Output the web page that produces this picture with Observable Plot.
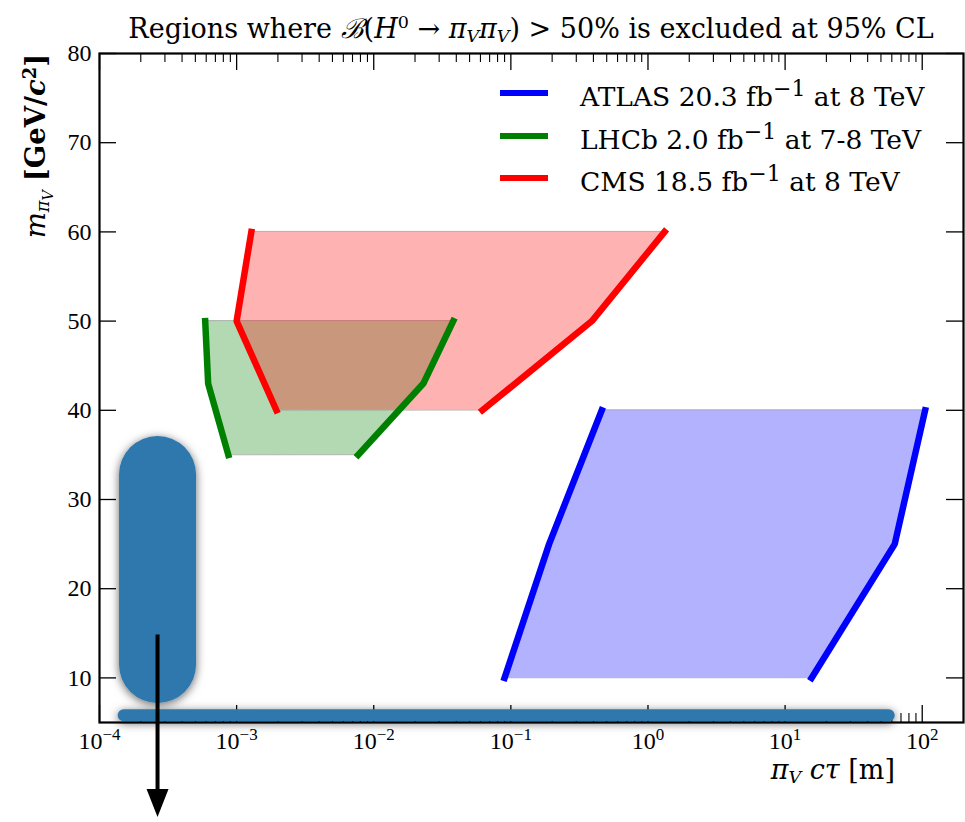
<!DOCTYPE html>
<html><head><meta charset="utf-8">
<script src="https://cdn.jsdelivr.net/npm/d3@7"></script>
<script src="https://cdn.jsdelivr.net/npm/@observablehq/plot@0.6"></script>
<style>
body{margin:0;background:#fff;}
#wrap{position:relative;width:965px;height:822px;font-family:"DejaVu Serif",serif;color:#000;overflow:hidden;}
#wrap svg{position:absolute;left:0;top:0;}
.ov{position:absolute;white-space:nowrap;line-height:1;}
.ov sub{font-size:0.65em;vertical-align:-0.25em;}
.ov sup{font-size:0.65em;vertical-align:0.55em;}
.leg{position:absolute;left:500px;width:590px;height:0;}
.leg .sw{position:absolute;left:0;top:-3px;width:48px;height:6px;}
.leg .tx{position:absolute;left:80px;top:-15px;font-size:26.5px;white-space:nowrap;line-height:1;}
</style></head><body><div id="wrap"></div>
<script>
// ---- data ----
const experiments = ["ATLAS", "LHCb", "CMS"];
const colors = ["#0000ff", "#008000", "#ff0000"];
const fills = ["#0000ff", "#008000", "#ff0000"];
const legendHTML = [
  "ATLAS 20.3 fb<sup>−1</sup> at 8 TeV",
  "LHCb 2.0 fb<sup>−1</sup> at 7-8 TeV",
  "CMS 18.5 fb<sup>−1</sup> at 8 TeV"
];
// mass (GeV/c^2), left and right boundaries in c*tau (m)
const atlasMass = [10, 25, 40];
const atlasLeft = [0.09, 0.19, 0.46];
const atlasRight = [15.6, 63, 105];
const lhcbMass = [35, 43, 50];
const lhcbLeft = [8.7e-4, 6.2e-4, 5.9e-4];
const lhcbRight = [0.0077, 0.023, 0.038];
const cmsMass = [40, 50, 60];
const cmsLeft = [1.95e-3, 1.0e-3, 1.28e-3];
const cmsRight = [0.062, 0.39, 1.32];

// annotation overlay (pill, bar, arrow)
const pillX = [2.65e-4, 2.65e-4];
const pillY = [11.5, 32.8];
const barX = [1.5e-4, 57];
const barY = [5.8, 5.8];
const arrowX = [2.65e-4, 2.65e-4];
const arrowY = [14.8, -5.6];

// ticks
const xMajor = [1e-4, 1e-3, 1e-2, 1e-1, 1e0, 1e1, 1e2];
const xMinorMult = [2, 3, 4, 5, 6, 7, 8, 9];
const xMinor = xMajor.flatMap(d => xMinorMult.map(m => d * m)).filter(v => v < 200);
const yTicks = [10, 20, 30, 40, 50, 60, 70, 80];

// ---- build tables ----
const regions = [
  {name: "ATLAS", m: atlasMass, l: atlasLeft, r: atlasRight},
  {name: "LHCb", m: lhcbMass, l: lhcbLeft, r: lhcbRight},
  {name: "CMS", m: cmsMass, l: cmsLeft, r: cmsRight}
];
const areaRows = regions.flatMap((g, gi) => g.m.map((m, i) => ({exp: g.name, gi, m, x1: g.l[i], x2: g.r[i]})));
const edgeRows = regions.flatMap((g, gi) => [
  ...g.m.map((m, i) => ({exp: g.name, gi, side: g.name + "L", m, x: g.l[i]})),
  ...g.m.map((m, i) => ({exp: g.name, gi, side: g.name + "R", m, x: g.r[i]}))
]);
const pillRows = pillX.map((x, i) => ({x, y: pillY[i]}));
const barRows = barX.map((x, i) => ({x, y: barY[i]}));

const W = 965, H = 822, mt = 53, mb = 100, ml = 99, mr = 2;
const fh = H - mt - mb, fw = W - ml - mr;
const majorLen = 17, minorLen = 9;

const headSymbol = {
  draw(ctx, size) {
    const w = 11, h = 28;
    ctx.moveTo(-w, -h); ctx.lineTo(w, -h); ctx.lineTo(0, 0); ctx.closePath();
  }
};

const marks = [];
// fills
regions.forEach((g, gi) => {
  marks.push(Plot.areaX(areaRows.filter(d => d.gi === gi), {
    y: "m", x1: "x1", x2: "x2", fill: fills[gi], fillOpacity: 0.3,
    stroke: "#9a9a9a", strokeWidth: 1, strokeOpacity: 0.7, curve: "linear"
  }));
});
// boundary lines
regions.forEach((g, gi) => {
  marks.push(Plot.line(edgeRows.filter(d => d.gi === gi), {
    x: "x", y: "m", z: "side", stroke: colors[gi], strokeWidth: 6.5, strokeLinecap: "square", strokeLinejoin: "miter"
  }));
});
// ticks (inward)
marks.push(Plot.ruleX(xMajor, {x: d => d, insetTop: fh - majorLen, stroke: "#000", strokeWidth: 1.3}));
marks.push(Plot.ruleX(xMajor, {x: d => d, insetBottom: fh - majorLen, stroke: "#000", strokeWidth: 1.3}));
marks.push(Plot.ruleX(xMinor, {x: d => d, insetTop: fh - minorLen, stroke: "#000", strokeWidth: 1.1}));
marks.push(Plot.ruleX(xMinor, {x: d => d, insetBottom: fh - minorLen, stroke: "#000", strokeWidth: 1.1}));
marks.push(Plot.ruleY(yTicks, {y: d => d, insetRight: fw - majorLen, stroke: "#000", strokeWidth: 1.3}));
marks.push(Plot.ruleY(yTicks, {y: d => d, insetLeft: fw - majorLen, stroke: "#000", strokeWidth: 1.3}));
// annotation
marks.push(Plot.line(pillRows, {x: "x", y: "y", stroke: "#2e78ad", strokeWidth: 77, strokeLinecap: "round"}));
marks.push(Plot.line(barRows, {x: "x", y: "y", stroke: "#2e78ad", strokeWidth: 12, strokeLinecap: "round"}));
marks.push(Plot.ruleX([0], {x: () => arrowX[0], y1: () => arrowY[0], y2: () => arrowY[1] + 2.5, stroke: "#000", strokeWidth: 4}));
marks.push(Plot.dot([0], {x: () => arrowX[1], y: () => arrowY[1], symbol: headSymbol, fill: "#000", stroke: "none", r: 10}));
// axes
marks.push(Plot.axisX({ticks: xMajor, tickSize: 0, tickPadding: 9, fontSize: 24, tickFormat: d => "10|" + Math.round(Math.log10(d)), label: null}));
marks.push(Plot.axisY({ticks: yTicks, tickSize: 0, tickPadding: 8, fontSize: 24, tickFormat: d => String(d), label: null}));
marks.push(Plot.frame({stroke: "#000", strokeWidth: 2.2}));

const chart = Plot.plot({
  width: W, height: H, marginTop: mt, marginBottom: mb, marginLeft: ml, marginRight: mr,
  x: {type: "log", domain: [1e-4, 200]},
  y: {domain: [5, 80]},
  style: {fontFamily: "Liberation Serif", fontSize: "24px", background: "transparent", overflow: "visible", color: "#000"},
  marks
});

// drop shadow for the overlay strokes
const svg = d3.select(chart);
const defs = svg.insert("defs", ":first-child");
const f = defs.append("filter").attr("id", "shadow").attr("filterUnits", "userSpaceOnUse")
  .attr("x", 0).attr("y", 0).attr("width", W).attr("height", H);
f.append("feDropShadow").attr("dx", 0).attr("dy", 2).attr("stdDeviation", 5).attr("flood-color", "#000").attr("flood-opacity", 0.6);
svg.selectAll('g[stroke-width="77"], g[stroke-width="12"]').attr("filter", "url(#shadow)");

// superscript tick labels
svg.selectAll('g[aria-label="x-axis tick label"] text').each(function () {
  const [base, ex] = this.textContent.split("|");
  const t = d3.select(this);
  t.text(null);
  t.append("tspan").text(base);
  t.append("tspan").attr("dy", "-0.5em").attr("font-size", "17px").text(ex.replace("-", "−"));
});

const wrap = document.getElementById("wrap");
wrap.appendChild(chart);

// title
const title = document.createElement("div");
title.className = "ov";
title.style.cssText = "left:531px;top:14px;transform:translateX(-50%);font-size:27px;";
title.innerHTML = "Regions where <i>ℬ</i>(<i>H</i><sup>0</sup> → <i>π</i><sub><i>V</i></sub><i>π</i><sub><i>V</i></sub>) &gt; 50% is excluded at 95% CL";
wrap.appendChild(title);

// axis labels
const xl = document.createElement("div");
xl.className = "ov";
xl.style.cssText = "right:70px;top:756px;font-size:27px;";
xl.innerHTML = "<i>π</i><sub><i>V</i></sub> <i>cτ</i> [m]";
wrap.appendChild(xl);

const yl = document.createElement("div");
yl.className = "ov";
yl.style.cssText = "left:38px;top:146px;transform:translate(-50%,-50%) rotate(-90deg);font-size:27.5px;";
yl.innerHTML = "<i>m</i><sub><i>π</i><sub style='font-size:0.8em'><i>V</i></sub></sub> <b>[GeV/<i>c</i><sup>2</sup>]</b>";
wrap.appendChild(yl);

// legend
const legendY = [93, 136, 178];
experiments.forEach((e, i) => {
  const row = document.createElement("div");
  row.className = "leg";
  row.style.top = legendY[i] + "px";
  row.innerHTML = `<div class="sw" style="background:${colors[i]}"></div><div class="tx">${legendHTML[i]}</div>`;
  wrap.appendChild(row);
});
</script></body></html>
